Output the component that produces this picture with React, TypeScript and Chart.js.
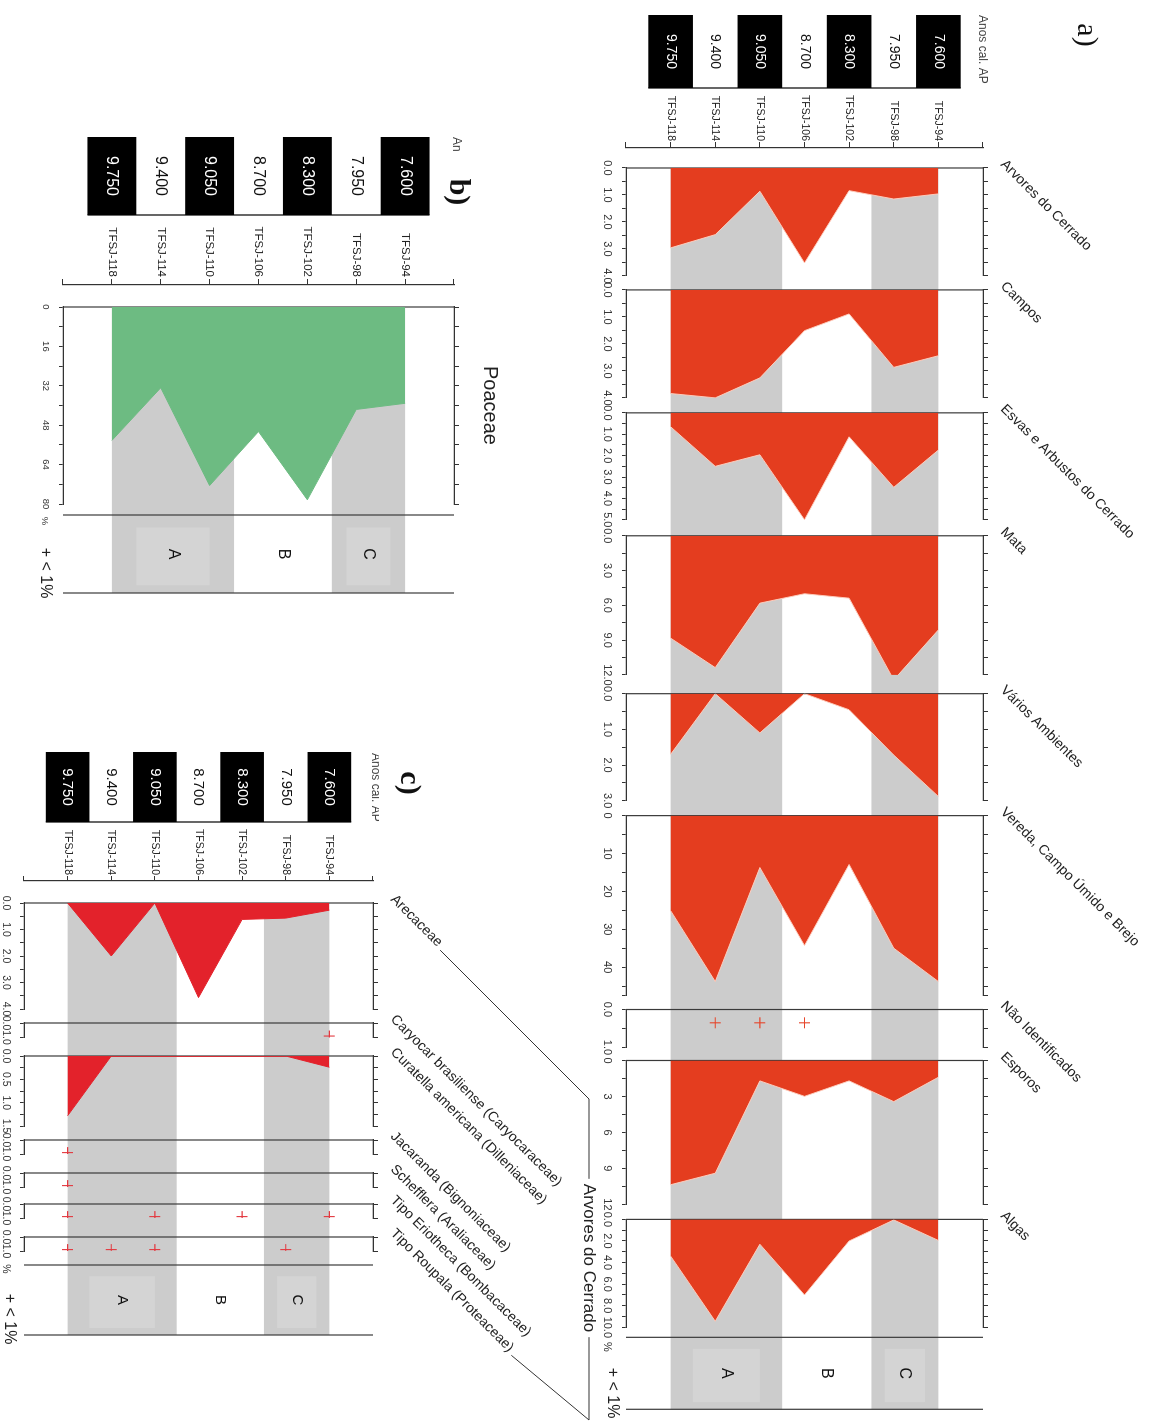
import React, { useEffect, useRef } from 'react';
import { Chart, registerables } from 'chart.js';

Chart.register(...registerables);

// ---------- samples (top of core first) ----------
const depths = [94, 98, 102, 106, 110, 114, 118];
const sampleLabels = ['TFSJ-94', 'TFSJ-98', 'TFSJ-102', 'TFSJ-106', 'TFSJ-110', 'TFSJ-114', 'TFSJ-118'];
const ageLabels = ['7.600', '7.950', '8.300', '8.700', '9.050', '9.400', '9.750'];

// ---------- pollen zones ----------
const zoneNames = ['A', 'B', 'C'];
const zoneTop = [108, 100, 94];
const zoneBase = [118, 108, 100];
const zoneShaded = [true, false, true];

// ---------- a) ecological groups (%) ----------
const arvoresDoCerrado = [0.96, 1.15, 0.84, 3.52, 0.86, 2.47, 2.96];
const campos = [2.44, 2.87, 0.89, 1.51, 3.26, 4.0, 3.84];
const ervasArbustos = [1.74, 3.48, 1.12, 5.0, 1.96, 2.5, 0.65];
const mata = [8.12, 12.43, 5.38, 5.0, 5.81, 11.37, 8.83];
const variosAmbientes = [2.88, 1.72, 0.45, 0.0, 1.1, 0.0, 1.7];
const veredaBrejo = [43.8, 35.0, 12.9, 34.3, 13.7, 43.8, 25.1];
const naoIdentificados = [null, null, null, 0.35, 0.35, 0.35, null];
const esporos = [1.4, 3.43, 1.7, 2.99, 1.7, 9.4, 10.36];
const algas = [1.95, 0.05, 2.0, 7.0, 2.3, 9.44, 3.4];

// ---------- b) ----------
const poaceae = [39.1, 41.6, 78.3, 50.6, 72.5, 32.8, 54.2];

// ---------- c) trees of the cerrado (%) ----------
const arecaceae = [0.27, 0.57, 0.62, 3.57, 0.0, 2.0, 0.0];
const caryocar = [0.9, null, null, null, null, null, null];
const curatella = [0.24, 0.0, 0.0, 0.0, 0.0, 0.0, 1.28];
const jacaranda = [null, null, null, null, null, null, 0.9];
const schefflera = [null, null, null, null, null, null, 0.9];
const eriotheca = [0.9, null, 0.9, null, 0.9, null, 0.9];
const roupala = [null, 0.9, null, null, 0.9, 0.9, 0.9];

const FW = 1428;
const FH = 1161;
const FONT = '"Liberation Sans", Arial, Helvetica, sans-serif';
const SERIF = '"Liberation Serif", "DejaVu Serif", "Times New Roman", serif';
const INK = '#333333';
const BAND = '#cccccc';
const BAND_BOX = '#d4d4d4';
const Y_AXIS_W = 60;

function ticksFor(max: number, step: number) {
  const out: number[] = [];
  const n = Math.floor(max / step + 1e-6);
  for (let i = 0; i <= n; i++) out.push(+(i * step).toFixed(6));
  if (Math.abs(out[out.length - 1] - max) > 1e-6) out.push(max);
  return out;
}
const isMultiple = (v: number, step: number) => Math.abs(v / step - Math.round(v / step)) < 1e-6;

function txt(ctx: CanvasRenderingContext2D, s: string, x: number, y: number, font: string,
  align: CanvasTextAlign = 'center', base: CanvasTextBaseline = 'middle', color = '#222') {
  ctx.save();
  ctx.font = font;
  ctx.textAlign = align;
  ctx.textBaseline = base;
  ctx.fillStyle = color;
  ctx.fillText(s, x, y);
  ctx.restore();
}

function line(ctx: CanvasRenderingContext2D, pts: number[][], color = INK, w = 1) {
  ctx.save();
  ctx.strokeStyle = color;
  ctx.lineWidth = w;
  ctx.beginPath();
  pts.forEach((p, i) => (i ? ctx.lineTo(p[0], p[1]) : ctx.moveTo(p[0], p[1])));
  ctx.stroke();
  ctx.restore();
}

// ---------- figure layouts ----------
const figA: any = {
  key: 'a', top: 178, bottom: 535, axisX: 148, right: 1410, zoneStart: 1338,
  topH: 8, botH: 30,
  sampleFont: 10.5, sampleTick: 6, samplePad: 1,
  tickFont: 11, tickPad: 8, ageX: [15, 88], ageFont: 14,
  fill: '#e43d1f', edge: 'rgba(255,205,190,0.95)', plus: '#e6452a',
  zoneFont: 16, labelMode: 'slant', labelFont: 14,
  panels: [
    { id: 'arv', label: 'Arvores do Cerrado', values: arvoresDoCerrado, mode: 'area', start: 168, end: 290, ppu: 27, axisMax: 4, tickStep: 0.5, labelStep: 1, dec: 1 },
    { id: 'cam', label: 'Campos', values: campos, mode: 'area', start: 290, end: 413, ppu: 27, axisMax: 4, tickStep: 0.5, labelStep: 1, dec: 1 },
    { id: 'erv', label: 'Esvas e Arbustos do Cerrado', values: ervasArbustos, mode: 'area', start: 413, end: 536, ppu: 21.4, axisMax: 5, tickStep: 0.5, labelStep: 1, dec: 1 },
    { id: 'mat', label: 'Mata', values: mata, mode: 'area', start: 536, end: 694, ppu: 11.6, axisMax: 12, tickStep: 1.5, labelStep: 3, dec: 1 },
    { id: 'var', label: 'Vários Ambientes', values: variosAmbientes, mode: 'area', start: 694, end: 816, ppu: 35.7, axisMax: 3, tickStep: 0.5, labelStep: 1, dec: 1 },
    { id: 'ver', label: 'Vereda, Campo Úmido e Brejo', values: veredaBrejo, mode: 'area', start: 816, end: 1010, ppu: 3.79, axisMax: 47.5, tickStep: 5, labelStep: 10, dec: 0 },
    { id: 'nao', label: 'Não Identificados', values: naoIdentificados, mode: 'plus', start: 1010, end: 1061, ppu: 38, axisMax: 1, tickStep: 0.5, labelStep: 1, dec: 1 },
    { id: 'esp', label: 'Esporos', values: esporos, mode: 'area', start: 1061, end: 1220, ppu: 12, axisMax: 12, tickStep: 1.5, labelStep: 3, dec: 0 },
    { id: 'alg', label: 'Algas', values: algas, mode: 'area', start: 1220, end: 1338, ppu: 10.8, axisMax: 10, tickStep: 1, labelStep: 2, dec: 1 },
  ],
  extras: (ctx: CanvasRenderingContext2D) => {
    txt(ctx, 'a)', 35, 75, `30px ${SERIF}`, 'center', 'middle', '#111');
    txt(ctx, 'Anos cal. AP', 15, 179, `12px ${FONT}`, 'left', 'middle', '#444');
    txt(ctx, '+ < 1%', 1393, 549, `16px ${FONT}`, 'center', 'middle', '#222');
    txt(ctx, '%', 1347, 554, `11px ${FONT}`, 'center', 'middle', INK);
  },
};

const figB: any = {
  key: 'b', top: 707, bottom: 1098, axisX: 285, right: 593, zoneStart: 515,
  topH: 8, botH: 28,
  sampleFont: 11.5, sampleTick: 6, samplePad: 2,
  tickFont: 9.5, tickPad: 8, ageX: [137, 215], ageFont: 16,
  fill: '#6dbb82', edge: '#6dbb82', plus: '#6dbb82',
  zoneFont: 16, labelMode: 'flat', labelFont: 20,
  panels: [
    { id: 'poa', label: 'Poaceae', values: poaceae, mode: 'area', start: 307, end: 515, ppu: 2.4625, axisMax: 80, tickStep: 8, labelStep: 16, dec: 0 },
  ],
  extras: (ctx: CanvasRenderingContext2D) => {
    txt(ctx, 'b)', 192, 703, `bold 30px ${SERIF}`, 'center', 'middle', '#111');
    ctx.save();
    ctx.beginPath();
    ctx.rect(120, 690, 32, 30);
    ctx.clip();
    txt(ctx, 'Anos cal. AP', 137, 705, `12px ${FONT}`, 'left', 'middle', '#444');
    ctx.restore();
    txt(ctx, '+ < 1%', 573, 1116, `16px ${FONT}`, 'center', 'middle', '#222');
    txt(ctx, '%', 521, 1116, `9.5px ${FONT}`, 'center', 'middle', INK);
  },
};

const figC: any = {
  key: 'c', top: 788, bottom: 1137, axisX: 881, right: 1335, zoneStart: 1265,
  topH: 8, botH: 24,
  sampleFont: 10.5, sampleTick: 5, samplePad: 1,
  tickFont: 10.5, tickPad: 8, ageX: [752, 822], ageFont: 15,
  fill: '#e3222b', edge: '#e3222b', plus: '#e3383f',
  zoneFont: 15, labelMode: 'slant', labelFont: 14,
  panels: [
    { id: 'are', label: 'Arecaceae', values: arecaceae, mode: 'area', start: 903, end: 1023, ppu: 26.5, axisMax: 4, tickStep: 0.5, labelStep: 1, dec: 1 },
    { id: 'car', label: 'Caryocar brasiliense (Caryocaraceae)', values: caryocar, mode: 'plus', start: 1023, end: 1056, ppu: 14.5, axisMax: 1, tickStep: 1, labelStep: 1, dec: 1 },
    { id: 'cur', label: 'Curatella americana (Dilleniaceae)', values: curatella, mode: 'area', start: 1056, end: 1140, ppu: 46.7, axisMax: 1.5, tickStep: 0.25, labelStep: 0.5, dec: 1 },
    { id: 'jac', label: 'Jacaranda (Bignoniaceae)', values: jacaranda, mode: 'plus', start: 1140, end: 1173, ppu: 14, axisMax: 1, tickStep: 1, labelStep: 1, dec: 1 },
    { id: 'sch', label: 'Schefflera (Araliaceae)', values: schefflera, mode: 'plus', start: 1173, end: 1204, ppu: 14, axisMax: 1, tickStep: 1, labelStep: 1, dec: 1 },
    { id: 'eri', label: 'Tipo Eriotheca (Bombacaceae)', values: eriotheca, mode: 'plus', start: 1204, end: 1237, ppu: 14, axisMax: 1, tickStep: 1, labelStep: 1, dec: 1 },
    { id: 'rou', label: 'Tipo Roupala (Proteaceae)', values: roupala, mode: 'plus', start: 1237, end: 1265, ppu: 14, axisMax: 1, tickStep: 1, labelStep: 1, dec: 1 },
  ],
  extras: (ctx: CanvasRenderingContext2D, chart: any) => {
    txt(ctx, 'c)', 783, 752, `bold 30px ${SERIF}`, 'center', 'middle', '#111');
    ctx.save();
    ctx.beginPath();
    ctx.rect(740, 782, 90, 14);
    ctx.clip();
    txt(ctx, 'Anos cal. AP', 753, 789, `12px ${FONT}`, 'left', 'alphabetic', '#444');
    ctx.restore();
    txt(ctx, '+ < 1%', 1319, 1152, `16px ${FONT}`, 'center', 'middle', '#222');
    txt(ctx, '%', 1269, 1155, `10.5px ${FONT}`, 'center', 'middle', INK);

    // group bracket joining the tree taxa
    const a = chart.chartArea;
    const first = figC.panels[0];
    const last = figC.panels[figC.panels.length - 1];
    const d = Math.SQRT1_2;
    ctx.save();
    ctx.font = `${figC.labelFont}px ${FONT}`;
    const w1 = ctx.measureText(first.label).width + 4;
    const w2 = ctx.measureText(last.label).width + 4;
    ctx.restore();
    const ax = chart.scales['xb_' + first.id].left - 3;
    const rx = chart.scales['xb_' + last.id].left - 3;
    const ay = a.top - 17;
    const p1 = [ax + w1 * d, ay - w1 * d];
    const p2 = [rx + w2 * d, ay - w2 * d];
    const gy = 572;
    const title = 'Arvores do Cerrado';
    ctx.save();
    ctx.font = `17px ${FONT}`;
    const tw = ctx.measureText(title).width;
    ctx.restore();
    const tc = 1258;
    line(ctx, [p1, [p1[0] + (p1[1] - gy), gy], [tc - tw / 2 - 5, gy]]);
    txt(ctx, title, tc, gy, `17px ${FONT}`, 'center', 'middle', '#222');
    line(ctx, [[tc + tw / 2 + 5, gy], [1420, gy], p2]);
  },
};

function figurePlugin(fig: any) {
  return {
    id: 'pollenFigure_' + fig.key,
    beforeDatasetsDraw(chart: any) {
      const { ctx, chartArea: a, scales } = chart;
      const y = scales.y;
      const firstLeft = scales['xb_' + fig.panels[0].id].left;
      const zl = scales.xb_zone.left;
      const zr = scales.xb_zone.right;
      ctx.save();
      zoneNames.forEach((_, i) => {
        if (!zoneShaded[i]) return;
        const t = y.getPixelForValue(zoneTop[i]);
        const b = y.getPixelForValue(zoneBase[i]);
        ctx.fillStyle = BAND;
        ctx.fillRect(firstLeft, t, a.right - firstLeft, b - t);
        const mid = (t + b) / 2;
        const half = (b - t) * 0.3;
        const w = zr - zl;
        ctx.fillStyle = BAND_BOX;
        ctx.fillRect(zl + w * 0.16, mid - half, w * 0.74, half * 2);
      });
      ctx.restore();
      const xs = fig.panels.map((p: any) => scales['xb_' + p.id].left).concat([zl, a.right]);
      xs.forEach((x: number) => line(ctx, [[x, a.top], [x, a.bottom]], '#3a3a3a', 1.2));
    },
    afterDatasetsDraw(chart: any) {
      const { ctx, chartArea: a, scales } = chart;
      const y = scales.y;
      const zl = scales.xb_zone.left;
      const zr = scales.xb_zone.right;
      // zone letters
      zoneNames.forEach((z, i) => {
        const mid = (y.getPixelForValue(zoneTop[i]) + y.getPixelForValue(zoneBase[i])) / 2;
        txt(ctx, z, (zl + zr) / 2, mid, `${fig.zoneFont}px ${FONT}`, 'center', 'middle', '#111');
      });
      // age column
      const half = (depths[1] - depths[0]) / 2;
      const [x0, x1] = fig.ageX;
      depths.forEach((dv, i) => {
        const t = y.getPixelForValue(dv - half);
        const b = y.getPixelForValue(dv + half);
        const dark = i % 2 === 0;
        if (dark) {
          ctx.fillStyle = '#000';
          ctx.fillRect(x0, t, x1 - x0, b - t);
        }
        txt(ctx, ageLabels[i], (x0 + x1) / 2, (t + b) / 2, `${fig.ageFont}px ${FONT}`, 'center', 'middle', dark ? '#fff' : '#111');
      });
      line(ctx, [[x1, y.getPixelForValue(depths[0] - half)], [x1, y.getPixelForValue(depths[depths.length - 1] + half)]], '#000', 1.2);
      // taxon names
      fig.panels.forEach((p: any) => {
        const sc = scales['xb_' + p.id];
        ctx.save();
        ctx.font = `${fig.labelFont}px ${FONT}`;
        ctx.fillStyle = '#222';
        if (fig.labelMode === 'slant') {
          ctx.translate(sc.left - 3, a.top - 17);
          ctx.rotate(-Math.PI / 4);
          ctx.textAlign = 'left';
          ctx.textBaseline = 'alphabetic';
          ctx.fillText(p.label, 0, 0);
        } else {
          ctx.textAlign = 'center';
          ctx.textBaseline = 'middle';
          ctx.fillText(p.label, (sc.left + sc.right) / 2, a.top - 36);
        }
        ctx.restore();
      });
      fig.extras(ctx, chart);
    },
  };
}

function buildConfig(fig: any) {
  const scales: any = {};
  const axisDepths = [90, ...depths, 122];
  scales.y = {
    type: 'linear', position: 'left', min: 90, max: 122, reverse: true,
    afterBuildTicks: (s: any) => { s.ticks = axisDepths.map((v) => ({ value: v })); },
    afterFit: (s: any) => { s.width = Y_AXIS_W; },
    ticks: {
      autoSkip: false, padding: fig.samplePad, color: '#222',
      font: { family: FONT, size: fig.sampleFont },
      callback: (v: number) => { const i = depths.indexOf(v); return i < 0 ? '' : sampleLabels[i]; },
    },
    grid: { drawOnChartArea: false, tickLength: fig.sampleTick, color: INK, lineWidth: 1 },
    border: { color: INK, width: 1.2 },
  };

  const segs: any[] = [];
  segs.push({ id: 'gap0', w: fig.panels[0].start - fig.axisX });
  fig.panels.forEach((p: any) => {
    const w = p.axisMax * p.ppu;
    segs.push({ id: p.id, w, panel: p });
    const g = p.end - p.start - w;
    if (g > 0.5) segs.push({ id: p.id + '_gap', w: g });
  });
  segs.push({ id: 'zone', w: fig.right - fig.zoneStart });

  segs.forEach((s, i) => {
    ['bottom', 'top'].forEach((pos) => {
      const id = (pos === 'bottom' ? 'xb_' : 'xt_') + s.id;
      // top boxes are laid out in descending weight order, so their weights run backwards
      const base = {
        type: 'linear', position: pos, stack: 'panels', stackWeight: s.w,
        weight: pos === 'bottom' ? i : -i,
        afterFit: (sc: any) => { sc.height = pos === 'bottom' ? fig.botH : fig.topH; },
      };
      if (!s.panel) {
        scales[id] = {
          ...base, min: 0, max: 1,
          ticks: { display: false },
          grid: { display: false, drawTicks: false },
          border: { display: false },
        };
      } else {
        const p = s.panel;
        const tv = ticksFor(p.axisMax, p.tickStep);
        scales[id] = {
          ...base, min: 0, max: p.axisMax,
          afterBuildTicks: (sc: any) => { sc.ticks = tv.map((v) => ({ value: v })); },
          ticks: {
            display: pos === 'bottom', autoSkip: false, maxRotation: 0, minRotation: 0,
            padding: fig.tickPad, color: INK, font: { family: FONT, size: fig.tickFont },
            callback: (v: number) => (isMultiple(v, p.labelStep) ? v.toFixed(p.dec) : ''),
          },
          grid: { drawOnChartArea: false, drawTicks: true, tickLength: pos === 'bottom' ? 4 : 5, color: INK, lineWidth: 1 },
          border: { display: true, color: INK, width: 1.3 },
        };
      }
    });
  });

  const datasets = fig.panels.map((p: any) => (p.mode === 'area'
    ? {
      type: 'line', indexAxis: 'y', xAxisID: 'xb_' + p.id, yAxisID: 'y',
      data: depths.map((d, i) => ({ x: p.values[i], y: d })),
      fill: 'origin', backgroundColor: fig.fill, borderColor: fig.edge, borderWidth: 1,
      pointRadius: 0, tension: 0,
    }
    : {
      type: 'line', indexAxis: 'y', xAxisID: 'xb_' + p.id, yAxisID: 'y',
      data: depths.flatMap((d, i) => (p.values[i] == null ? [] : [{ x: p.values[i], y: d }])),
      showLine: false, pointStyle: 'cross', pointRadius: 5.5,
      pointBorderColor: fig.plus, pointBackgroundColor: fig.plus, pointBorderWidth: 1.1,
    }));

  return {
    type: 'line',
    data: { datasets },
    options: {
      responsive: false, animation: false, devicePixelRatio: 1, events: [],
      indexAxis: 'y',
      layout: {
        padding: {
          left: fig.axisX - Y_AXIS_W,
          right: FW - fig.right,
          top: fig.top - fig.topH,
          bottom: FH - fig.bottom - fig.botH,
        },
      },
      plugins: { legend: { display: false }, tooltip: { enabled: false }, title: { display: false } },
      scales,
    },
    plugins: [figurePlugin(fig)],
  };
}

function FigureCanvas({ fig }: { fig: any }) {
  const ref = useRef<HTMLCanvasElement>(null);
  useEffect(() => {
    if (!ref.current) return undefined;
    const chart = new Chart(ref.current, buildConfig(fig) as any);
    return () => chart.destroy();
  }, [fig]);
  return (
    <canvas
      ref={ref}
      width={FW}
      height={FH}
      style={{ position: 'absolute', left: 0, top: 0, width: FW, height: FH }}
    />
  );
}

export default function App() {
  return (
    <div style={{ position: 'absolute', left: 0, top: 0, width: FH, height: FW, overflow: 'hidden', background: '#fff' }}>
      <div
        style={{
          position: 'absolute', left: 0, top: 0, width: FW, height: FH,
          transformOrigin: '0 0', transform: `translate(${FH}px, 0px) rotate(90deg)`,
        }}
      >
        <FigureCanvas fig={figA} />
        <FigureCanvas fig={figB} />
        <FigureCanvas fig={figC} />
      </div>
    </div>
  );
}
